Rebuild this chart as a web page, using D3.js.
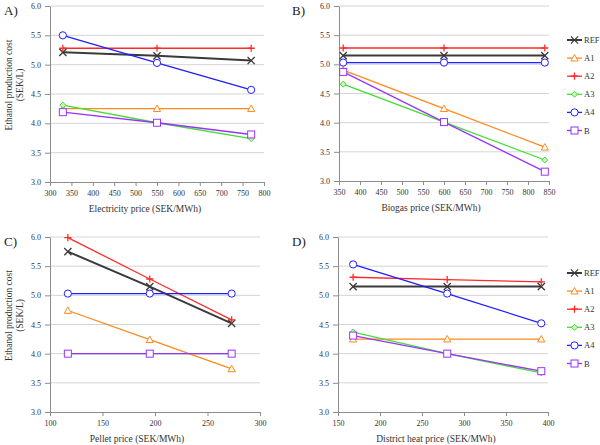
<!DOCTYPE html>
<html><head><meta charset="utf-8">
<script src="https://cdn.jsdelivr.net/npm/d3@7"></script>
<style>
body{margin:0;background:#fff;}
svg{display:block;font-family:"Liberation Serif","Times New Roman",serif;}
</style></head>
<body><svg id="c" width="600" height="445"></svg>
<script>
const seriesNames = ["REF","A1","A2","A3","A4","B"];
const seriesColors = ["#3a3a3a","#ff8a1c","#ff2a2a","#44dd33","#1f1fff","#9933ff"];
const seriesMarkers = ["x","tri","plus","diamond","circle","square"];

const elecPrice = [330,550,770];
const costElec = [
  [5.21,5.15,5.07],[4.25,4.25,4.25],[5.28,5.28,5.28],
  [4.31,4.01,3.74],[5.50,5.03,4.57],[4.19,4.01,3.81]];
const biogasPrice = [360,600,840];
const costBiogas = [
  [5.15,5.15,5.15],[4.90,4.24,3.58],[5.28,5.28,5.28],
  [4.66,4.01,3.36],[5.03,5.03,5.03],[4.87,4.01,3.16]];
const pelletPrice = [117,195,273];
const costPellet = [
  [5.75,5.15,4.52],[4.74,4.24,3.74],[5.99,5.28,4.58],
  [4.00,4.00,4.00],[5.03,5.03,5.03],[4.00,4.00,4.00]];
const heatPrice = [168,280,392];
const costHeat = [
  [5.15,5.15,5.15],[4.25,4.25,4.25],[5.31,5.27,5.23],
  [4.37,4.00,3.67],[5.53,5.03,4.52],[4.31,4.00,3.70]];

const yTicks = [3.0,3.5,4.0,4.5,5.0,5.5,6.0];
const xTicksA = [300,350,400,450,500,550,600,650,700,750,800];
const xTicksB = [350,400,450,500,550,600,650,700,750,800,850];
const xTicksC = [100,150,200,250,300];
const xTicksD = [150,200,250,300,350,400];

const panels = [
  {label:"A)", xs:elecPrice, ys:costElec, ticks:xTicksA, title:"Electricity price (SEK/MWh)",
   x0:50, x1:264, y0:182, y1:6, lx:4, ly:15, ytitle:true, legend:false, tx:145},
  {label:"B)", xs:biogasPrice, ys:costBiogas, ticks:xTicksB, title:"Biogas price (SEK/MWh)",
   x0:339, x1:549, y0:181, y1:6, lx:292, ly:15, ytitle:false, legend:true, legY:40, tx:431},
  {label:"C)", xs:pelletPrice, ys:costPellet, ticks:xTicksC, title:"Pellet price (SEK/MWh)",
   x0:50, x1:260, y0:412, y1:237, lx:4, ly:246, ytitle:true, legend:false, tx:137},
  {label:"D)", xs:heatPrice, ys:costHeat, ticks:xTicksD, title:"District heat price (SEK/MWh)",
   x0:338, x1:548, y0:412, y1:237, lx:292, ly:246, ytitle:false, legend:true, legY:273, tx:436}
];

const svg = d3.select("#c");

function marker(g, type, color, cx, cy){
  const s = 3.6;
  if(type==="x"){
    g.append("path").attr("d",`M${cx-s},${cy-s}L${cx+s},${cy+s}M${cx-s},${cy+s}L${cx+s},${cy-s}`)
      .attr("stroke",color).attr("stroke-width",1.3).attr("fill","none");
  } else if(type==="plus"){
    g.append("path").attr("d",`M${cx-s},${cy}L${cx+s},${cy}M${cx},${cy-s}L${cx},${cy+s}`)
      .attr("stroke",color).attr("stroke-width",1.3).attr("fill","none");
  } else if(type==="tri"){
    g.append("path").attr("d",`M${cx},${cy-s}L${cx+s},${cy+s*0.8}L${cx-s},${cy+s*0.8}Z`)
      .attr("stroke",color).attr("stroke-width",1).attr("fill","#fff");
  } else if(type==="diamond"){
    g.append("path").attr("d",`M${cx},${cy-3}L${cx+3},${cy}L${cx},${cy+3}L${cx-3},${cy}Z`)
      .attr("stroke",color).attr("stroke-width",1).attr("fill","#c8f5c0");
  } else if(type==="circle"){
    g.append("circle").attr("cx",cx).attr("cy",cy).attr("r",3.6)
      .attr("stroke",color).attr("stroke-width",1).attr("fill","#fff");
  } else if(type==="square"){
    g.append("rect").attr("x",cx-3.5).attr("y",cy-3.5).attr("width",7).attr("height",7)
      .attr("stroke",color).attr("stroke-width",1).attr("fill","#fff");
  }
}

panels.forEach(p=>{
  const x = d3.scaleLinear().domain([p.ticks[0], p.ticks[p.ticks.length-1]]).range([p.x0,p.x1]);
  const y = d3.scaleLinear().domain([3,6]).range([p.y0,p.y1]);
  const g = svg.append("g");

  // gridlines
  g.append("g").selectAll("line").data(yTicks.filter(t=>t>3)).join("line")
    .attr("x1",p.x0).attr("x2",p.x1).attr("y1",d=>y(d)).attr("y2",d=>y(d))
    .attr("stroke","#d4d4d4").attr("stroke-width",1);

  // y axis
  const ya = g.append("g").attr("transform",`translate(${p.x0},0)`)
    .call(d3.axisLeft(y).tickValues(yTicks).tickFormat(d3.format(".1f")).tickSize(5).tickSizeOuter(0));
  ya.select(".domain").attr("stroke","#8c8c8c");
  ya.selectAll(".tick line").attr("stroke","#8c8c8c");
  ya.selectAll(".tick text").attr("font-size",8).attr("fill","#333").attr("font-family","Liberation Serif").attr("dx",-1);

  // x axis
  const xa = g.append("g").attr("transform",`translate(0,${p.y0})`)
    .call(d3.axisBottom(x).tickValues(p.ticks).tickFormat(d3.format("d")).tickSize(4).tickSizeOuter(0));
  xa.select(".domain").attr("stroke","#8c8c8c");
  xa.selectAll(".tick line").attr("stroke","#8c8c8c");
  xa.selectAll(".tick text").attr("font-size",8).attr("fill","#333").attr("font-family","Liberation Serif").attr("dy","0.9em");

  // x title
  g.append("text").attr("x",p.tx).attr("y",p.y0+30).attr("text-anchor","middle")
    .attr("font-size",9.5).attr("fill","#333").text(p.title);

  // y title
  if(p.ytitle){
    const cy = (p.y0+p.y1)/2 - 9;
    g.append("text").attr("transform",`translate(12,${cy}) rotate(-90)`).attr("text-anchor","middle")
      .attr("font-size",9.5).attr("fill","#333").text("Ethanol production cost");
    g.append("text").attr("transform",`translate(23,${cy}) rotate(-90)`).attr("text-anchor","middle")
      .attr("font-size",9.5).attr("fill","#333").text("(SEK/L)");
  }

  // panel label
  g.append("text").attr("x",p.lx).attr("y",p.ly).attr("font-size",13).attr("fill","#222").text(p.label);

  // series
  const line = d3.line().x(d=>x(d[0])).y(d=>y(d[1]));
  p.ys.forEach((vals,i)=>{
    const pts = p.xs.map((xv,j)=>[xv,vals[j]]);
    const sg = g.append("g");
    sg.append("path").attr("d",line(pts)).attr("fill","none")
      .attr("stroke",seriesColors[i]).attr("stroke-width",i===0?2:1.3);
    pts.forEach(pt=>marker(sg, seriesMarkers[i], seriesColors[i], x(pt[0]), y(pt[1])));
  });

  // legend
  if(p.legend){
    seriesNames.forEach((n,i)=>{
      const ly = p.legY + i*18.1;
      const lg = g.append("g");
      lg.append("line").attr("x1",567).attr("x2",582).attr("y1",ly).attr("y2",ly)
        .attr("stroke",seriesColors[i]).attr("stroke-width",i===0?2:1.3);
      marker(lg, seriesMarkers[i], seriesColors[i], 574.5, ly);
      lg.append("text").attr("x",584).attr("y",ly+3).attr("font-size",8.5).attr("fill","#333").text(n);
    });
  }
});
</script></body></html>
